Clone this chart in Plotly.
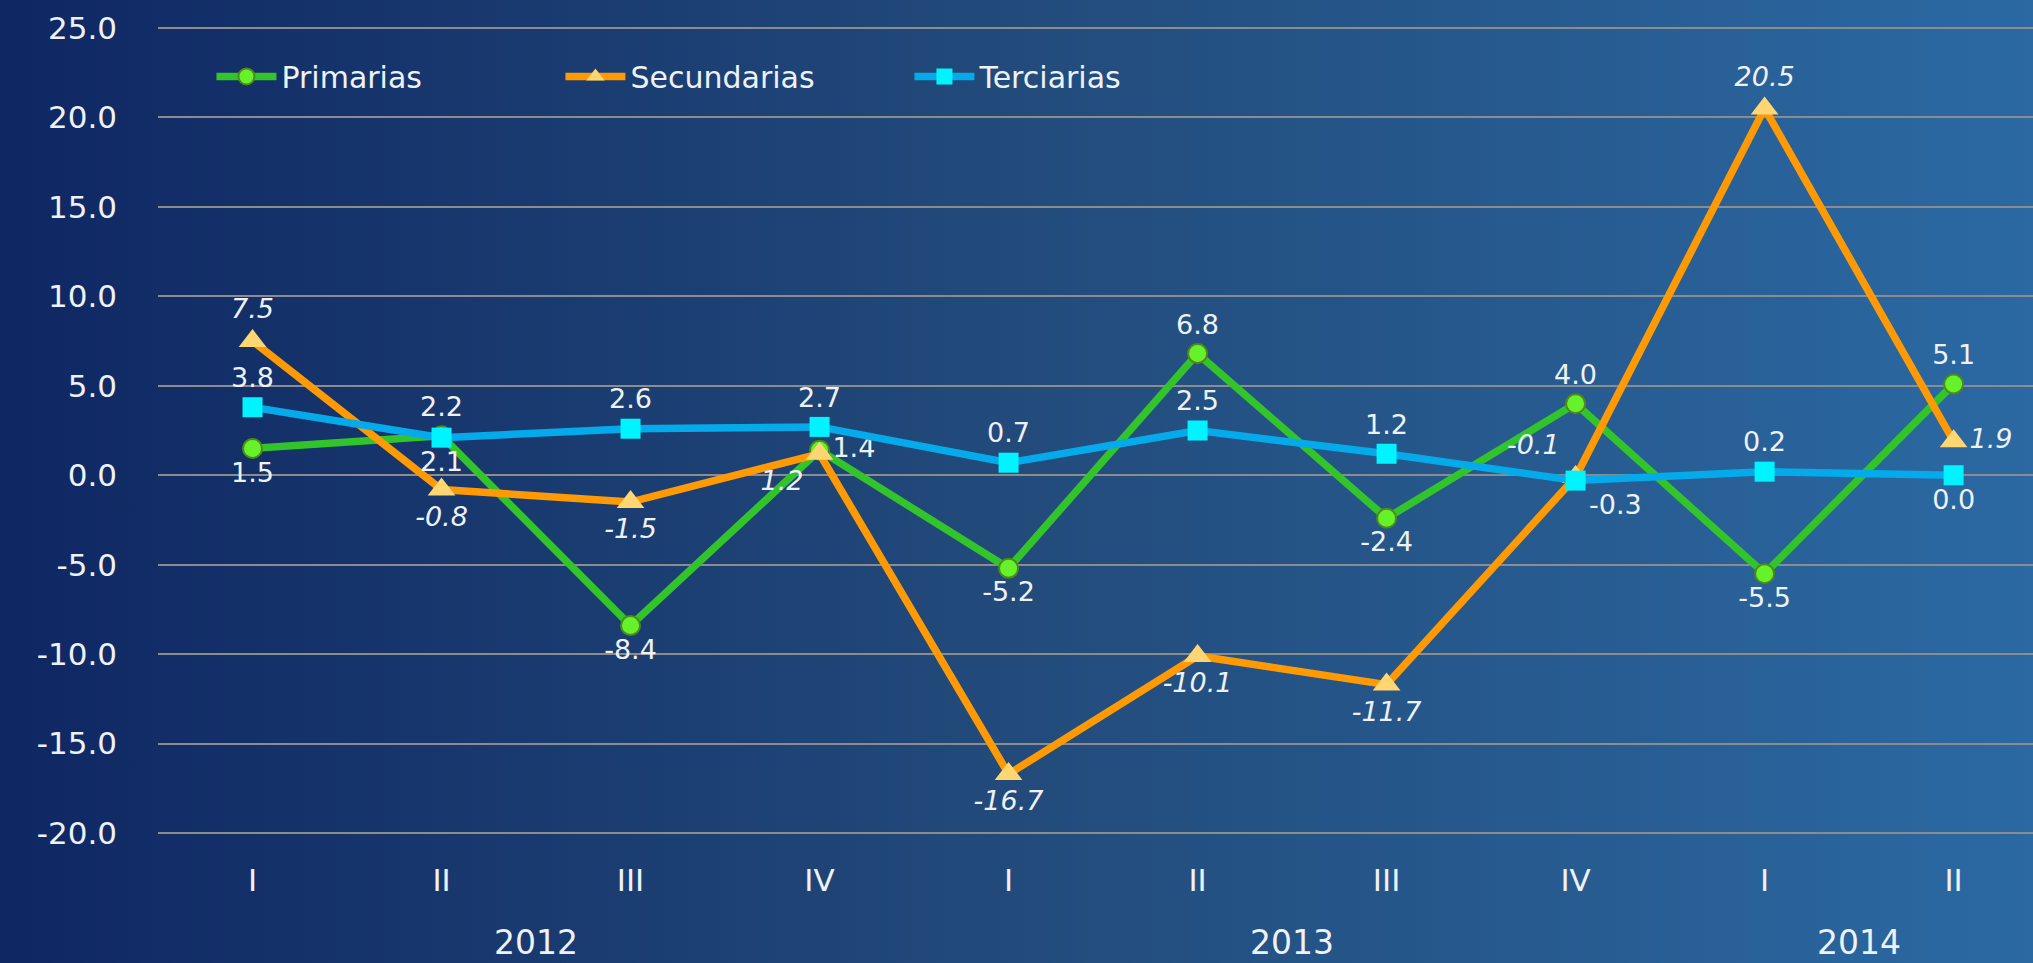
import base64
import plotly.graph_objects as go

quarters = ["I", "II", "III", "IV", "I", "II", "III", "IV", "I", "II"]
years = ["2012", "2012", "2012", "2012", "2013", "2013", "2013", "2013", "2014", "2014"]

primarias = [1.5, 2.2, -8.4, 1.4, -5.2, 6.8, -2.4, 4.0, -5.5, 5.1]
secundarias = [7.5, -0.8, -1.5, 1.2, -16.7, -10.1, -11.7, -0.1, 20.5, 1.9]
terciarias = [3.8, 2.1, 2.6, 2.7, 0.7, 2.5, 1.2, -0.3, 0.2, 0.0]

pos_prim = ["bottom center", "top center", "bottom center", "middle right", "bottom center",
            "top center", "bottom center", "top center", "bottom center", "top center"]
pos_sec = ["top center", "bottom center", "bottom center", "bottom left", "bottom center",
           "bottom center", "bottom center", "top left", "top center", "middle right"]
pos_ter = ["top center", "bottom center", "top center", "top center", "top center",
           "top center", "top center", "bottom right", "top center", "bottom center"]

x = list(range(len(quarters)))
FONT = "DejaVu Sans"
LABEL = "#eef2f6"

fig = go.Figure()
fig.add_trace(go.Scatter(
    x=x, y=primarias, name="Primarias", mode="lines+markers+text",
    line=dict(color="#33c42c", width=7.5),
    marker=dict(symbol="circle", size=19, color="#66f22a", line=dict(color="#4f8a18", width=2)),
    text=[f"{v:.1f}" for v in primarias], textposition=pos_prim,
    textfont=dict(family=FONT, size=27, color=LABEL), cliponaxis=False,
))
fig.add_trace(go.Scatter(
    x=x, y=secundarias, name="Secundarias", mode="lines+markers+text",
    line=dict(color="#ff9a05", width=7.5),
    marker=dict(symbol="triangle-up", size=24, color="#ffd672", line=dict(width=0)),
    text=[f"{v:.1f}" for v in secundarias], textposition=pos_sec,
    textfont=dict(family=FONT, size=27, color=LABEL, style="italic"), cliponaxis=False,
))
fig.add_trace(go.Scatter(
    x=x, y=terciarias, name="Terciarias", mode="lines+markers+text",
    line=dict(color="#04aaea", width=7.5),
    marker=dict(symbol="square", size=20, color="#00f4ff", line=dict(width=0)),
    text=[f"{v:.1f}" for v in terciarias], textposition=pos_ter,
    textfont=dict(family=FONT, size=27, color=LABEL), cliponaxis=False,
))

# year group labels centred under their quarters
for yr in dict.fromkeys(years):
    idx = [i for i, y in enumerate(years) if y == yr]
    fig.add_annotation(x=sum(idx) / len(idx), y=-0.109, xref="x", yref="paper",
                       text=yr, showarrow=False, yanchor="middle",
                       font=dict(family=FONT, size=33, color=LABEL))

svg = ('<svg xmlns="http://www.w3.org/2000/svg" width="200" height="100" preserveAspectRatio="none">'
       '<defs><linearGradient id="g" x1="0" y1="0" x2="1" y2="0">'
       '<stop offset="0" stop-color="#0f2763"/><stop offset="0.5" stop-color="#224b7b"/>'
       '<stop offset="1" stop-color="#2b69a3"/></linearGradient></defs>'
       '<rect width="200" height="100" fill="url(#g)"/></svg>')
src = "data:image/svg+xml;base64," + base64.b64encode(svg.encode()).decode()

L, R, T, B = 158, 0, 10.4, 112.4
W, H = 2033, 963
pw, ph = W - L - R, H - T - B
fig.add_layout_image(dict(source=src, xref="paper", yref="paper",
                          x=-L / pw, y=1 + T / ph, sizex=W / pw, sizey=H / ph,
                          sizing="stretch", layer="below", xanchor="left", yanchor="top"))

fig.update_layout(
    width=W, height=H,
    margin=dict(l=L, r=R, t=T, b=B, pad=0),
    paper_bgcolor="#1f4577", plot_bgcolor="rgba(0,0,0,0)",
    font=dict(family=FONT, color=LABEL),
    showlegend=True,
    legend=dict(orientation="h", x=0.0285, y=0.921, xanchor="left", yanchor="middle",
                bgcolor="rgba(0,0,0,0)", font=dict(family=FONT, size=30, color=LABEL),
                itemwidth=60, entrywidth=274),
)
fig.update_xaxes(range=[-0.5, 9.42], tickvals=x, ticktext=quarters, showgrid=False,
                 zeroline=False, showline=False, ticks="",
                 tickfont=dict(family=FONT, size=31, color=LABEL), ticklabelstandoff=8)
fig.update_yaxes(range=[-21, 26], tickvals=list(range(-20, 30, 5)),
                 ticktext=[f"{v:.1f}" for v in range(-20, 30, 5)],
                 showgrid=True, gridcolor="#8c8c8c", gridwidth=2,
                 zeroline=True, zerolinecolor="#8c8c8c", zerolinewidth=2,
                 showline=False, ticks="",
                 tickfont=dict(family=FONT, size=31, color=LABEL), ticklabelstandoff=40)

fig.write_html("out.html", config={"displayModeBar": False},
               post_script="document.body.style.margin='0';document.body.style.overflow='hidden';")
